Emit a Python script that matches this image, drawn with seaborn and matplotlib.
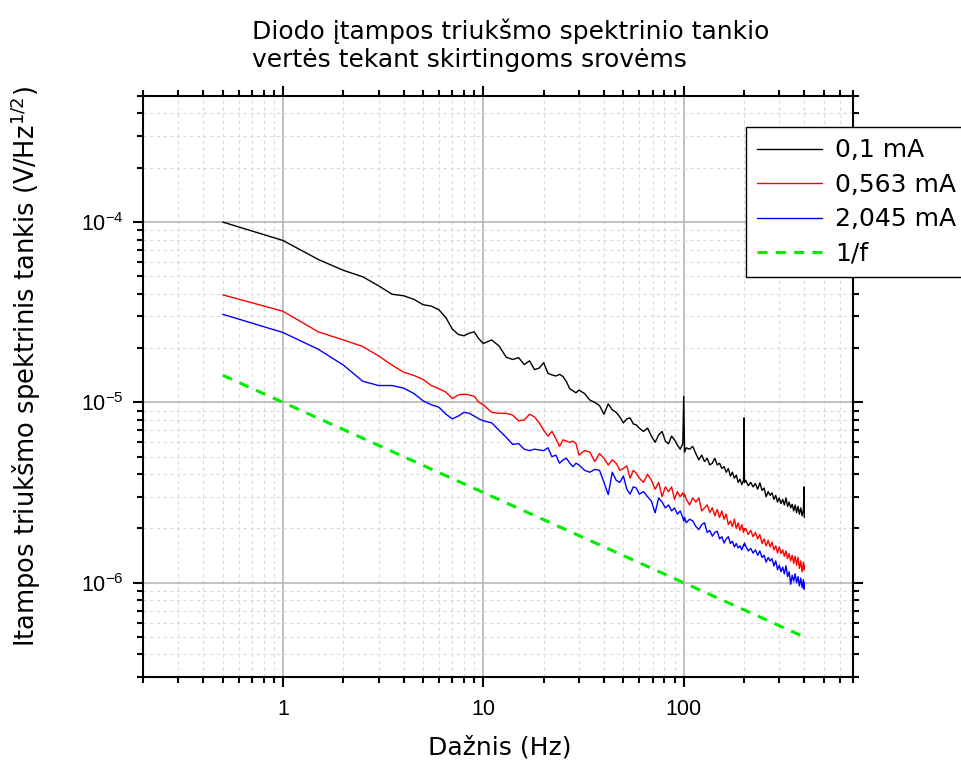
import numpy as np
import pandas as pd
import matplotlib
matplotlib.use("Agg")
import matplotlib.pyplot as plt
from matplotlib.ticker import LogLocator, FuncFormatter, NullFormatter
from matplotlib.lines import Line2D
import seaborn as sns

# Frequency bins of the averaged spectra, Hz
freq_hz = [
    0.5, 1, 1.5, 2, 2.5, 3, 3.5, 4, 4.5, 5, 5.5, 6, 6.5, 7, 7.5, 8, 8.5, 9, 9.5, 10,
    11, 12, 13, 14, 15, 16, 17, 18, 19, 20, 21, 22, 23, 24, 25, 26, 27, 28, 29, 30,
    32, 34, 36, 38, 40, 42, 44, 46, 48, 50, 52, 54, 56, 58, 60,
    63, 66, 69, 72, 75, 78, 81, 84, 87, 90, 93, 96, 99,
    100, 101,
    103, 107, 111, 115, 119, 123, 127, 131, 135, 139, 143, 147, 151, 155, 159,
    163, 167, 171, 175, 179, 183, 187, 191, 195, 199,
    200, 201,
    204, 210, 216, 222, 228, 234, 240, 246, 252, 258, 264, 270, 276, 282, 288,
    294, 300, 306, 312, 318, 324, 330, 336, 342, 348, 354, 360, 366, 372, 378,
    384, 390, 396,
    399, 400,
]

# Noise spectral density, uV/Hz^(1/2), diode current 0.1 mA
noise_01mA = [
    100, 79, 62, 54, 49.7, 44.3, 39.8, 39.0, 37.3, 34.8, 34.2, 32.6, 29.5, 25.5, 23.8, 23.4, 24.2, 24.6, 22.5, 21.2,
    22.2, 20.5, 17.8, 17.3, 17.7, 16.2, 17.0, 15.2, 15.5, 16.6, 14.5, 14.2, 14.0, 14.3, 13.9, 13.0, 11.9, 11.6, 11.3, 11.7,
    11.2, 10.3, 10.0, 9.6, 8.6, 9.8, 9.1, 8.8, 8.3, 7.7, 8.1, 8.2, 7.6, 7.5, 7.2,
    6.9, 7.2, 6.5, 6.0, 6.6, 6.9, 6.1, 5.9, 6.5, 6.2, 5.8, 5.5, 5.9,
    10.8, 5.3,
    5.6, 5.5, 5.7, 5.2, 4.8, 5.1, 4.7, 4.9, 4.5, 4.6, 4.9, 4.5, 4.6, 4.3, 4.4,
    4.1, 4.3, 3.9, 4.1, 3.8, 3.95, 3.6, 3.75, 3.5, 3.7,
    8.2, 3.6,
    3.7, 3.45, 3.6, 3.4, 3.55, 3.3, 3.58, 3.25, 3.35, 3.0, 3.2, 3.05, 3.15, 2.9, 3.05,
    2.8, 2.95, 2.75, 2.9, 2.7, 2.95, 2.65, 2.8, 2.6, 2.72, 2.5, 2.7, 2.45, 2.65, 2.4,
    2.6, 2.35, 2.55,
    3.4, 2.3,
]

# Noise spectral density, uV/Hz^(1/2), diode current 0.563 mA
noise_0563mA = [
    39.5, 32.0, 24.6, 22.2, 20.4, 18.1, 16.1, 14.7, 14.1, 13.4, 12.4, 11.9, 11.4, 10.5, 11.0, 11.1, 11.0, 10.8, 10.0, 9.7,
    8.8, 8.7, 8.7, 8.5, 7.9, 8.0, 8.6, 8.3, 7.7, 7.0, 6.5, 6.9, 6.3, 5.7, 6.2, 6.1, 6.0, 6.1, 5.9, 5.1,
    5.4, 5.3, 4.7, 5.2, 4.9, 4.5, 4.8, 4.6, 4.2, 4.3, 4.45, 3.8, 4.2, 4.05, 3.8,
    3.6, 4.0, 3.7, 3.3, 3.6, 3.0, 3.4, 3.2, 3.4, 2.9, 3.2, 3.0, 3.15,
    3.0, 3.1,
    2.9, 2.7, 2.95, 2.8, 2.95, 2.5, 2.6, 2.7, 2.45, 2.6, 2.35, 2.55, 2.3, 2.5, 2.25,
    2.4, 2.1, 2.2, 2.05, 2.25, 2.0, 2.15, 1.95, 2.1, 1.9,
    2.0, 1.95,
    2.0, 1.85, 1.95, 1.8, 1.9, 1.75, 1.85, 1.65, 1.75, 1.6, 1.72, 1.58, 1.68, 1.52, 1.6,
    1.46, 1.58, 1.45, 1.52, 1.4, 1.5, 1.36, 1.45, 1.32, 1.42, 1.28, 1.4, 1.25, 1.38, 1.2,
    1.32, 1.15, 1.3,
    1.18, 1.25,
]

# Noise spectral density, uV/Hz^(1/2), diode current 2.045 mA
noise_2045mA = [
    30.8, 24.4, 19.7, 16.1, 13.1, 12.4, 12.4, 12.0, 11.2, 10.2, 9.7, 9.4, 8.6, 8.1, 8.4, 8.8, 8.7, 8.4, 8.1, 7.9,
    7.7, 7.0, 6.4, 5.85, 5.9, 5.5, 5.4, 5.5, 5.45, 5.4, 5.6, 5.0, 5.1, 4.6, 4.8, 4.9, 4.6, 4.4, 4.6, 4.5,
    4.2, 4.1, 4.25, 4.2, 3.6, 3.08, 4.1, 3.7, 3.6, 3.9, 3.3, 3.1, 3.4, 3.35, 3.1,
    3.2, 3.0, 2.83, 2.44, 2.95, 2.8, 2.6, 2.7, 2.5, 2.6, 2.4, 2.5, 2.3,
    2.2, 2.3,
    2.15, 2.25, 2.2, 2.05, 1.97, 2.1, 2.15, 1.9, 1.95, 1.81, 1.9, 1.93, 1.75, 1.8, 1.66,
    1.75, 1.8, 1.65, 1.7, 1.58, 1.65, 1.56, 1.6, 1.52, 1.62,
    1.6, 1.66,
    1.6, 1.5, 1.55, 1.46, 1.52, 1.42, 1.5, 1.38, 1.42, 1.3, 1.38, 1.32, 1.36, 1.24, 1.32,
    1.18, 1.25, 1.15, 1.22, 1.12, 1.24, 1.08, 1.15, 0.98, 1.1, 1.02, 1.12, 1.0, 1.08, 0.96,
    1.06, 0.94, 1.04,
    0.92, 1.0,
]

# 1/f reference line end points (Hz, uV/Hz^(1/2))
ref_freq = [0.5, 400]
ref_level = [14.14, 0.5]

current_labels = ["0,1 mA", "0,563 mA", "2,045 mA"]
ref_label = "1/f"
line_colors = ["#000000", "#ff0000", "#0000ff"]
ref_color = "#00ee00"

sns.set_style("white")
plt.rcParams["font.family"] = ["Liberation Sans", "DejaVu Sans"]
plt.rcParams["mathtext.fontset"] = "dejavusans"
plt.rcParams["text.color"] = "black"
plt.rcParams["axes.labelcolor"] = "black"
plt.rcParams["xtick.color"] = "black"
plt.rcParams["ytick.color"] = "black"
text_font = "DejaVu Sans"

fig = plt.figure(figsize=(9.61, 7.62), dpi=100)
W, H = 961, 762
ax = fig.add_axes([143 / W, 1 - 677 / H, 710 / W, 581 / H])
ax.set_xscale("log")
ax.set_yscale("log")

spectra = pd.DataFrame({
    "f": np.tile(np.array(freq_hz, dtype=float), 3),
    "S": np.concatenate([noise_01mA, noise_0563mA, noise_2045mA]) * 1e-6,
    "I": np.repeat(current_labels, len(freq_hz)),
})
sns.lineplot(data=spectra, x="f", y="S", hue="I", hue_order=current_labels,
             palette=line_colors, estimator=None, sort=False, linewidth=1.0,
             legend=False, ax=ax, zorder=3)

ref = pd.DataFrame({"f": ref_freq, "S": np.array(ref_level) * 1e-6})
sns.lineplot(data=ref, x="f", y="S", color=ref_color, linewidth=2.2,
             linestyle=(0, (3.3, 2.7)), estimator=None, legend=False, ax=ax, zorder=3)

ax.set_xlim(0.2, 700)
ax.set_ylim(3e-7, 5e-4)
ax.set_xlabel("")
ax.set_ylabel("")

ax.xaxis.set_major_locator(LogLocator(base=10))
ax.xaxis.set_minor_locator(LogLocator(base=10, subs=np.arange(2, 10)))
ax.yaxis.set_major_locator(LogLocator(base=10))
ax.yaxis.set_minor_locator(LogLocator(base=10, subs=np.arange(2, 10)))
ax.xaxis.set_major_formatter(FuncFormatter(lambda v, _: f"{v:g}"))
ax.xaxis.set_minor_formatter(NullFormatter())
ax.yaxis.set_minor_formatter(NullFormatter())

ax.grid(which="major", color="#b0b0b0", linewidth=1.1, linestyle="-", zorder=1)
ax.grid(which="minor", color="#dadada", linewidth=0.8, linestyle=(0, (3, 3)), zorder=1)
ax.set_axisbelow(True)

for s in ax.spines.values():
    s.set_linewidth(1.5)
    s.set_color("black")
    s.set_visible(True)
ax.tick_params(which="both", direction="out", top=True, right=True,
               bottom=True, left=True, width=1.5, color="black",
               labelsize=15.5, labelcolor="black")
ax.tick_params(which="major", length=7.5)
ax.tick_params(which="minor", length=4)
ax.tick_params(axis="x", which="major", pad=8)
ax.tick_params(axis="y", which="major", pad=6.5)

handles = [Line2D([], [], color=c, linewidth=1.0) for c in line_colors]
handles.append(Line2D([], [], color=ref_color, linewidth=2.2, linestyle=(0, (3.3, 2.7))))
leg = ax.legend(handles, current_labels + [ref_label], loc="upper left",
                bbox_to_anchor=(746 / W, 1 - 127 / H), bbox_transform=fig.transFigure,
                borderaxespad=0, frameon=True, fancybox=False, shadow=False,
                edgecolor="black", facecolor="white", framealpha=1,
                prop={"family": text_font, "size": 18},
                handlelength=2.6, handletextpad=0.5, labelspacing=0.42, borderpad=0.45)
leg.get_frame().set_linewidth(1.0)
for t in leg.get_texts():
    t.set_color("black")
leg.set_zorder(10)

fig.text(252.5 / W, 1 - 39.3 / H, "Diodo įtampos triukšmo spektrinio tankio",
         ha="left", va="baseline", fontsize=18, family=text_font, color="black")
fig.text(252.5 / W, 1 - 66.7 / H, "vertės tekant skirtingoms srovėms",
         ha="left", va="baseline", fontsize=18, family=text_font, color="black")
fig.text(500 / W, 1 - 754 / H, "Dažnis (Hz)", ha="center", va="baseline",
         fontsize=18, family=text_font, color="black")
fig.text(26 / W, 1 - 367 / H, "Itampos triukšmo spektrinis tankis (V/Hz$^{1/2}$)",
         ha="center", va="center", rotation=90, fontsize=18.5, family=text_font,
         color="black")

fig.savefig("out.png", dpi=100)
